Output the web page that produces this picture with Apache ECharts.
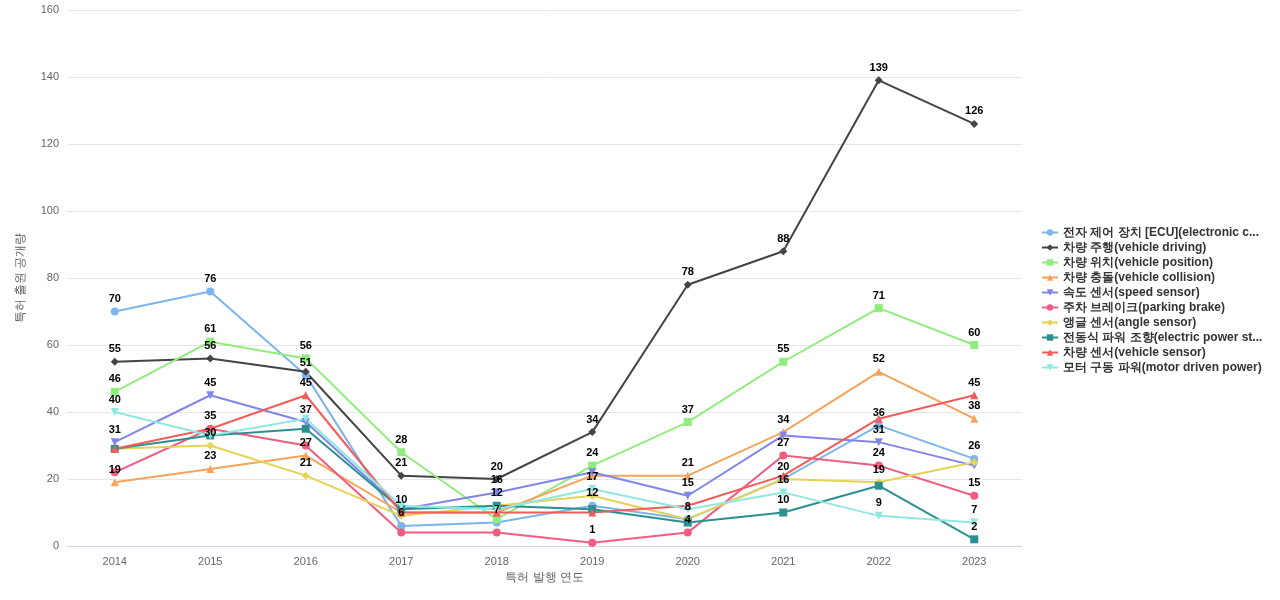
<!DOCTYPE html>
<html>
<head>
<meta charset="utf-8">
<script src="https://cdn.jsdelivr.net/npm/echarts@6/dist/echarts.min.js"></script>
<style>html,body{margin:0;padding:0;background:#fff}#c{width:1280px;height:600px}</style>
</head>
<body>
<div id="c"></div>
<script>
const years = ['2014','2015','2016','2017','2018','2019','2020','2021','2022','2023'];
const seriesNames = [
  '전자 제어 장치 [ECU](electronic control unit)',
  '차량 주행(vehicle driving)',
  '차량 위치(vehicle position)',
  '차량 충돌(vehicle collision)',
  '속도 센서(speed sensor)',
  '주차 브레이크(parking brake)',
  '앵글 센서(angle sensor)',
  '전동식 파워 조향(electric power steering)',
  '차량 센서(vehicle sensor)',
  '모터 구동 파워(motor driven power)'
];
const ecu        = [70, 76, 51, 6, 7, 12, 8, 20, 36, 26];
const driving    = [55, 56, 52, 21, 20, 34, 78, 88, 139, 126];
const position   = [46, 61, 56, 28, 8, 24, 37, 55, 71, 60];
const collision  = [19, 23, 27, 10, 10, 21, 21, 34, 52, 38];
const speed      = [31, 45, 37, 11, 16, 22, 15, 33, 31, 24];
const parking    = [22, 35, 30, 4, 4, 1, 4, 27, 24, 15];
const angle      = [29, 30, 21, 9, 12, 15, 8, 20, 19, 25];
const eps        = [29, 33, 35, 11, 12, 11, 7, 10, 18, 2];
const sensor     = [29, 35, 45, 10, 10, 10, 12, 21, 38, 45];
const motor      = [40, 33, 38, 12, 11, 17, 11, 16, 9, 7];
const yTicks = {min: 0, max: 160, interval: 20};

const allData = [ecu, driving, position, collision, speed, parking, angle, eps, sensor, motor];
const colors = ['#7cb5ec','#434348','#90ed7d','#f7a35c','#8085e9','#f15c80','#e4d354','#2b908f','#f45b5b','#91e8e1'];
const symbols = ['circle','diamond','rect','triangle','path://M0,0 L10,0 L5,10 Z','circle','diamond','rect','triangle','path://M0,0 L10,0 L5,10 Z'];

const chart = echarts.init(document.getElementById('c'));
chart.setOption({
  animation: false,
  color: colors,
  grid: {left: 67, right: 258, top: 10, bottom: 54},
  legend: {
    orient: 'vertical', left: 1036, top: 'middle',
    itemWidth: 16, itemHeight: 8, itemGap: 3,
    textStyle: {fontSize: 12, fontWeight: 'bold', color: '#333', width: 204, overflow: 'truncate'},
    data: seriesNames
  },
  xAxis: {
    type: 'category', data: years, boundaryGap: true,
    name: '특허 발행 연도', nameLocation: 'middle', nameGap: 26,
    nameTextStyle: {color: '#666', fontSize: 12},
    axisLine: {lineStyle: {color: '#ccd6eb'}},
    axisTick: {show: false},
    axisLabel: {color: '#666', fontSize: 11, margin: 10}
  },
  yAxis: {
    type: 'value', min: yTicks.min, max: yTicks.max, interval: yTicks.interval,
    name: '특허 출원 공개량', nameLocation: 'middle', nameGap: 40,
    nameTextStyle: {color: '#666', fontSize: 12},
    axisLine: {show: false}, axisTick: {show: false},
    axisLabel: {color: '#666', fontSize: 11},
    splitLine: {lineStyle: {color: '#e6e6e6'}}
  },
  series: allData.map((d, i) => ({
    name: seriesNames[i], type: 'line', data: d,
    symbol: symbols[i], symbolSize: 8,
    lineStyle: {width: 2},
    label: {show: true, position: 'top', fontSize: 11, fontWeight: 'bold', color: '#000', distance: 3},
    labelLayout: {hideOverlap: true}
  }))
});
</script>
</body>
</html>
